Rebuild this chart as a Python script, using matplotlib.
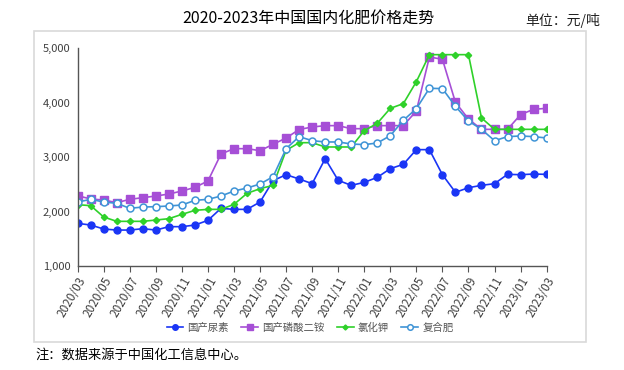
import matplotlib
matplotlib.use("Agg")
import matplotlib.pyplot as plt
from matplotlib.patches import Rectangle
from matplotlib.ticker import FuncFormatter

plt.rcParams['font.family'] = ['Noto Sans CJK SC', 'DejaVu Sans']

# months 2020/03 .. 2023/03
months = []
for y in range(2020, 2024):
    for m in range(1, 13):
        if (y == 2020 and m < 3) or (y == 2023 and m > 3):
            continue
        months.append('%d/%02d' % (y, m))

# prices, yuan per ton
urea = [1784, 1753, 1680, 1661, 1661, 1686, 1661, 1723, 1723, 1753, 1839, 2060,
        2041, 2041, 2176, 2568, 2678, 2599, 2513, 2972, 2574, 2482, 2537, 2629,
        2789, 2868, 3138, 3138, 2678, 2354, 2439, 2482, 2513, 2684, 2678, 2690, 2684]
dap = [2292, 2231, 2213, 2164, 2225, 2256, 2286, 2323, 2378, 2445, 2562, 3058,
       3156, 3156, 3119, 3236, 3352, 3508, 3554, 3579, 3579, 3523, 3523, 3579,
       3579, 3579, 3848, 4840, 4798, 4007, 3701, 3511, 3511, 3511, 3781, 3879, 3897]
kcl = [2127, 2109, 1900, 1821, 1821, 1821, 1845, 1870, 1949, 2023, 2041, 2041,
       2133, 2335, 2421, 2482, 3125, 3266, 3266, 3187, 3187, 3187, 3487, 3622,
       3897, 3983, 4387, 4883, 4883, 4883, 4883, 3720, 3511, 3511, 3511, 3511, 3511]
compound = [2176, 2225, 2176, 2152, 2060, 2084, 2090, 2103, 2121, 2207, 2225, 2286,
            2378, 2433, 2507, 2641, 3156, 3377, 3303, 3279, 3279, 3242, 3230, 3260,
            3395, 3677, 3891, 4265, 4259, 3934, 3664, 3511, 3303, 3377, 3389, 3377, 3352]

fig = plt.figure(figsize=(6.24, 3.70), dpi=100)

# light grey frame around the chart area
fig.patches.append(Rectangle((34 / 624, 1 - 342 / 370), (586 - 34) / 624, (342 - 31) / 370,
                             transform=fig.transFigure, fill=False,
                             edgecolor='#d9d9d9', linewidth=1.2))

ax = fig.add_axes([0.1245, 0.281, 0.7515, 0.5885])
x = list(range(len(months)))

ax.plot(x, urea, color='#1a35f5', marker='o', markersize=5, linewidth=1.2, label='国产尿素')
ax.plot(x, dap, color='#a64fd6', marker='s', markersize=5.2, linewidth=1.2, label='国产磷酸二铵')
ax.plot(x, kcl, color='#2fd12a', marker='D', markersize=3.2, linewidth=1.2, label='氯化钾')
ax.plot(x, compound, color='#3f94d6', marker='o', markersize=5, linewidth=1.2,
        markerfacecolor='white', markeredgewidth=1.1, label='复合肥')

ax.set_xlim(0, len(months) - 1)
ax.set_ylim(1000, 5000)
ax.set_yticks([1000, 2000, 3000, 4000, 5000])
ax.yaxis.set_major_formatter(FuncFormatter(lambda v, p: '{:,.0f}'.format(v)))
ax.tick_params(axis='y', length=0, labelsize=8, labelcolor='#404040', pad=5)

ax.set_xticks(x[::2])
ax.set_xticklabels(months[::2], rotation=60, ha='right', rotation_mode='anchor')
ax.tick_params(axis='x', length=4, color='#555555', labelsize=8.5, labelcolor='#404040', pad=2)

for s in ['top', 'right']:
    ax.spines[s].set_visible(False)
for s in ['left', 'bottom']:
    ax.spines[s].set_color('#555555')
    ax.spines[s].set_linewidth(1)

ax.legend(loc='center', bbox_to_anchor=(310 / 624, 1 - 328 / 370), bbox_transform=fig.transFigure,
          ncol=4, frameon=False, fontsize=7.5, handlelength=1.6, handletextpad=0.4,
          columnspacing=1.2, markerscale=0.8, labelcolor='#555555')

fig.text(308 / 624, 1 - 18 / 370, '2020-2023年中国国内化肥价格走势', ha='center', va='center',
         fontsize=11.5, color='black')
fig.text(600 / 624, 1 - 20 / 370, '单位：元/吨', ha='right', va='center', fontsize=10, color='#222222')
fig.text(35 / 624, 1 - 355 / 370, '注：数据来源于中国化工信息中心。', ha='left', va='center',
         fontsize=9.5, color='black')

fig.savefig('out.png', dpi=100)
